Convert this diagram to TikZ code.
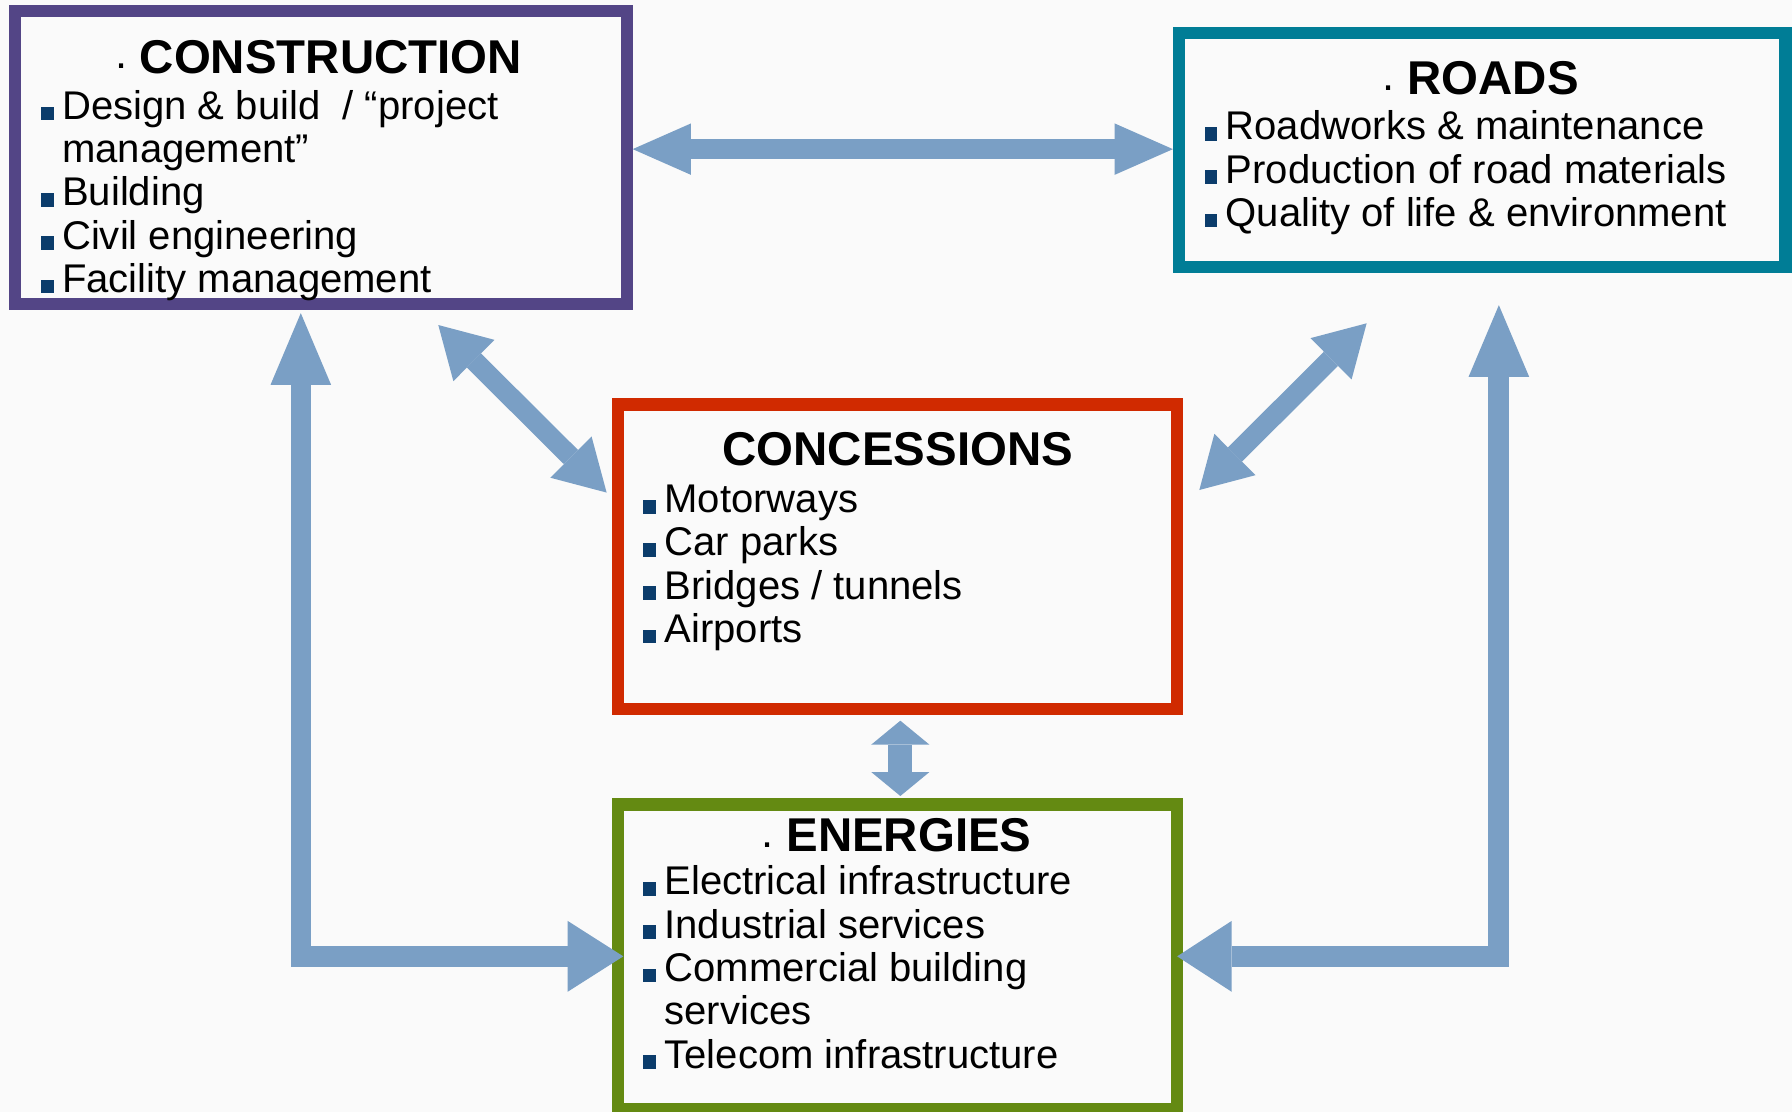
\documentclass[tikz,border=0pt]{standalone}
\usepackage{fontspec}
\setmainfont{Liberation Sans}
\usetikzlibrary{arrows.meta}
\definecolor{cpurple}{RGB}{83,69,134}
\definecolor{cteal}{RGB}{0,125,150}
\definecolor{cred}{RGB}{208,42,0}
\definecolor{cgreen}{RGB}{100,138,18}
\definecolor{carrow}{RGB}{122,159,197}
\definecolor{cbullet}{RGB}{11,60,107}
\definecolor{cbg}{RGB}{250,250,250}
\newcommand{\bsq}{\makebox[18.5pt][l]{\textcolor{cbullet}{\rule[-0.8pt]{11pt}{12pt}}}}
\newcommand{\bsk}{\hspace*{18.5pt}}
\newcommand{\tdot}{\llap{\raisebox{4pt}{\fontsize{38}{38}\selectfont\mdseries .}\hspace{11pt}}}
\newcommand{\fixls}{\lineskiplimit=-200pt\lineskip=0pt}
\begin{document}
\begin{tikzpicture}[x=1pt,y=-1pt,
  catbox/.style={draw, rectangle, inner sep=0pt},
  ttl/.style={anchor=base, inner sep=0pt, font=\fontsize{41.5}{45}\selectfont\bfseries},
  lst/.style={anchor=base west, inner sep=0pt, font=\fontsize{35.05}{37.85}\selectfont},
  blk/.style={draw=carrow, line width=#1, line join=miter, line cap=butt}]

\fill[cbg] (0,0) rectangle (1568,973);
\useasboundingbox (0,0) rectangle (1568,973);

% boxes
\node[catbox, draw=cpurple, line width=10.5pt, minimum width=535.2pt, minimum height=256.4pt] (cons) at (280.75,137.85) {};
\node[catbox, draw=cteal, line width=10.6pt, minimum width=530.7pt, minimum height=204.1pt] (roads) at (1296.95,131.25) {};
\node[catbox, draw=cred, line width=10.7pt, minimum width=488.5pt, minimum height=266.4pt] (conc) at (785.3,487.05) {};
\node[catbox, draw=cgreen, line width=10.7pt, minimum width=488.5pt, minimum height=266.8pt] (ener) at (785.3,837.25) {};

% arrow end points
\coordinate (h1) at (cons.east |- 0,130.5);
\coordinate (h2) at (roads.west |- 0,130.5);
\coordinate (d1a) at (383.5,284.4);
\coordinate (d1b) at (530.8,431);
\coordinate (d2a) at (1049.4,428.75);
\coordinate (d2b) at (1195.8,282.9);
\coordinate (v1) at (787.8,630.6);
\coordinate (v2) at (787.8,696.5);
\coordinate (l1) at (263.2,274);
\coordinate (l2) at (545.4,836.8);
\coordinate (r1) at (1311.5,267);
\coordinate (r2) at (1030,836.8);

% arrows
\draw[blk=17pt, {Triangle[length=51pt,width=45pt,line width=0pt]}-{Triangle[length=51pt,width=45pt,line width=0pt]}] (h1) -- (h2);
\draw[blk=17.5pt, {Triangle[length=44pt,width=51pt,line width=0pt]}-{Triangle[length=44pt,width=51pt,line width=0pt]}] (d1a) -- (d1b);
\draw[blk=17.5pt, {Triangle[length=44pt,width=51pt,line width=0pt]}-{Triangle[length=44pt,width=51pt,line width=0pt]}] (d2a) -- (d2b);
\draw[blk=21pt, {Triangle[length=21pt,width=51pt,line width=0pt]}-{Triangle[length=21pt,width=51pt,line width=0pt]}] (v1) -- (v2);
\draw[blk=18pt, {Triangle[length=62.7pt,width=53pt,line width=0pt]}-{Triangle[length=48.7pt,width=62pt,line width=0pt]}] (l1) |- (l2);
\draw[blk=18.4pt, {Triangle[length=62.7pt,width=53pt,line width=0pt]}-{Triangle[length=47.7pt,width=62pt,line width=0pt]}] (r1) |- (r2);

% titles
\node[ttl] (consT) at (289.5,64.2) {\tdot CONSTRUCTION};
\node[ttl] (roadsT) at (1306.5,83.1) {\tdot ROADS};
\node[ttl] (concT) at (785.5,407) {CONCESSIONS};
\node[ttl] (enerT) at (795.4,745.2) {\tdot ENERGIES};

% lists
\node[lst] (consL) at (35.7,104.4) {\parbox[t]{560pt}{\fixls
\bsq Design \& build~\ / “project\\
\bsk management”\\
\bsq Building\\
\bsq Civil engineering\\
\bsq Facility management}};
\node[lst] (roadsL) at (1053.8,122.5) {\parbox[t]{500pt}{\fixls
\bsq Roadworks \& maintenance\\
\bsq Production of road materials\\
\bsq Quality of life \& environment}};
\node[lst] (concL) at (562.8,448.6) {\parbox[t]{460pt}{\fixls
\bsq Motorways\\
\bsq Car parks\\
\bsq Bridges / tunnels\\
\bsq Airports}};
\node[lst] (enerL) at (562.8,783.1) {\parbox[t]{460pt}{\fixls
\bsq Electrical infrastructure\\
\bsq Industrial services\\
\bsq Commercial building\\
\bsk services\\
\bsq Telecom infrastructure}};
\end{tikzpicture}
\end{document}
